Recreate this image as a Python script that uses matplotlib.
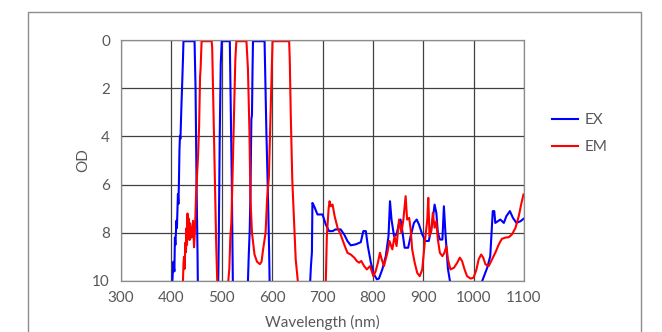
import numpy as np
import matplotlib.pyplot as plt
from matplotlib.patches import Rectangle

#%% Data (OD > 10 means "off scale")

ex_wl = [398, 402, 404, 406, 407, 408, 410, 411, 413, 414, 415, 416, 417, 418, 420, 421, 423, 424,
         446, 448, 450, 452, 453,
         491, 493, 494, 495, 496, 497, 498, 500,
         516, 518, 520, 521, 522, 523,
         551, 552, 553.5, 555.5, 556.8, 558.8, 560, 561, 562,
         585, 588.6, 591.9, 593.9, 595, 596,
         674, 675.6, 677, 679, 680, 683.5, 690, 700, 706.6, 713, 720, 726, 736, 743, 749.5, 756,
         766, 776, 781, 786, 790, 796, 802, 808, 812, 819, 825.6, 831, 834, 837, 842, 847, 852,
         855, 858, 863, 870, 875, 881.5, 887, 891.6, 898, 904.6, 911, 918, 922.5, 926, 929, 933,
         938, 941, 944, 949, 953, 955,
         1015, 1017, 1027, 1033, 1038, 1041, 1043, 1048, 1053, 1060, 1065, 1072, 1078, 1085,
         1093, 1099]
ex_od = [11, 10, 9.2, 9.6, 8.2, 8.5, 7.5, 7.8, 6.4, 6.8, 5.9, 4.6, 4.0, 4.1, 2.7, 2.1, 0.8, 0.05,
         0.05, 2.0, 6.0, 9.0, 11,
         11, 10, 8.5, 6.2, 4.0, 2.5, 1.0, 0.05,
         0.05, 3.0, 6.0, 8.0, 10, 11,
         11, 10, 9.0, 7.9, 6.6, 3.3, 3.1, 1.4, 0.05,
         0.05, 3.8, 6.6, 8.6, 10, 11,
         11, 10, 9.4, 8.8, 6.76, 6.9, 7.24, 7.24, 7.66, 7.93, 7.93, 7.86, 7.86, 8.07, 8.34, 8.52,
         8.48, 8.39, 7.93, 7.93, 8.55, 9.24, 9.72, 9.93, 9.9, 9.5, 8.97, 8.14, 6.69, 7.45, 8.14,
         8.07, 7.59, 7.45, 7.86, 8.62, 8.62, 8.14, 7.59, 7.45, 7.66, 8.07, 8.34, 8.34, 7.59, 6.83,
         7.17, 8.0, 8.28, 8.28, 6.9, 8.0, 9.5, 10, 11,
         11, 10, 9.45, 8.97, 7.1, 7.1, 7.59, 7.52, 7.45, 7.59, 7.31, 7.1, 7.38, 7.59, 7.52, 7.42]

em_wl = [421, 423, 424, 425, 426, 428, 429, 430, 431, 432, 433, 434, 436, 437, 440, 443, 445, 447,
         449, 451, 453, 455, 457, 458, 460,
         480, 481, 483, 485, 487, 489, 491, 492,
         511, 513, 515, 517, 519, 521, 523, 525, 527, 529,
         549, 552, 555, 557, 560, 565, 570, 575.6, 579, 582, 587, 590, 593.5, 595.5, 597.5, 598.8,
         600.8, 633.8, 635, 637, 640, 643.5, 646.8, 651, 653,
         705, 706.6, 708.6, 712, 714, 716.5, 720, 724, 730, 736, 743, 749.5, 756, 763, 768, 772.6,
         777, 782.6, 788, 794.5, 801, 805.6, 810, 814, 817.5, 822, 828.7, 833, 838.6, 843, 847,
         852, 856.6, 860.6, 865, 868, 872, 875, 878, 883, 888, 893, 898, 903, 908, 910, 912.5,
         916, 919, 922.5, 926, 929, 933, 938, 942, 946, 949, 954, 961, 967.5, 972.6, 977, 982,
         987, 994, 1000, 1005.6, 1010, 1015, 1019, 1023.5, 1030, 1036.6, 1043, 1050, 1056, 1063,
         1070, 1076, 1083, 1089.6, 1095, 1099]
em_od = [11, 10, 9.3, 9.0, 9.5, 8.4, 8.8, 7.8, 8.5, 7.2, 8.0, 7.4, 8.3, 7.6, 8.2, 7.5, 8.6, 7.8,
         6.4, 5.6, 4.8, 3.6, 1.5, 1.2, 0.05,
         0.05, 0.3, 2.3, 4.2, 6.4, 8.5, 10, 11,
         11, 10, 9.5, 8.2, 7.6, 6.0, 4.2, 2.5, 0.8, 0.05,
         0.05, 1.2, 3.8, 6.6, 8.0, 8.9, 9.2, 9.3, 9.2, 8.7, 8.0, 6.6, 5.7, 4.2, 2.6, 1.6,
         0.05, 0.05, 0.8, 3.1, 5.8, 7.5, 9.1, 10, 11,
         11, 10, 8.14, 7.03, 6.69, 6.9, 6.83, 7.3, 7.8, 8.07, 8.48, 8.83, 8.9, 9.03, 9.17, 9.24,
         9.17, 9.38, 9.52, 9.38, 9.8, 9.59, 9.24, 8.83, 9.1, 9.38, 8.83, 8.34, 8.69, 8.14, 8.55,
         7.45, 8.0, 7.45, 6.48, 7.45, 7.38, 7.86, 8.69, 9.24, 9.66, 9.8, 9.52, 8.41, 7.45, 6.55,
         8.14, 7.93, 7.17, 7.79, 7.52, 8.28, 8.83, 8.97, 8.83, 8.55, 9.1, 9.52, 9.45, 9.24, 9.03,
         9.17, 9.52, 9.8, 9.9, 9.86, 9.52, 9.1, 8.9, 9.03, 9.31, 9.38, 9.1, 8.83, 8.48, 8.25, 8.2,
         8.18, 8.07, 7.8, 7.31, 6.76, 6.41]

x_ticks = [300, 400, 500, 600, 700, 800, 900, 1000, 1100]
y_ticks = [0, 2, 4, 6, 8, 10]

#%% Plot

plt.rcParams['font.family'] = ['Lato', 'DejaVu Sans']
txt = '#595959'
fs = 11

fig = plt.figure(figsize=(6.62, 3.32), dpi=100)
fig.patches.append(Rectangle((28 / 662, -0.1), (641 - 28) / 662, 1.1 - 12 / 332,
                             transform=fig.transFigure, fill=False,
                             edgecolor='#8c8c8c', lw=1.0))

ax = fig.add_axes([121 / 662, 1 - 281 / 332, (524 - 121) / 662, (281 - 40) / 332])
ax.plot(ex_wl, ex_od, color='#0000ff', lw=1.5, label='EX')
ax.plot(em_wl, em_od, color='#ff0000', lw=1.5, label='EM')

ax.set_xlim(300, 1100)
ax.set_ylim(10, 0)
ax.set_xticks(x_ticks)
ax.set_yticks(y_ticks)
ax.grid(True, color='#404040', lw=0.9)
for s in ax.spines.values():
    s.set_color('#8c8c8c')
    s.set_linewidth(0.9)
ax.tick_params(length=0, labelsize=fs, labelcolor=txt)
ax.tick_params(axis='x', pad=7)
ax.tick_params(axis='y', pad=8)
ax.set_xlabel('Wavelength (nm)', fontsize=fs, color=txt, labelpad=7)
ax.set_ylabel('OD', fontsize=fs, color=txt, labelpad=1)

fig.legend(loc='upper left', bbox_to_anchor=(552 / 662, 1 - 113 / 332), frameon=False,
           fontsize=fs, labelcolor=txt, handlelength=1.7, handletextpad=0.45,
           labelspacing=0.85, borderpad=0, borderaxespad=0)

fig.savefig('out.png', dpi=100)
